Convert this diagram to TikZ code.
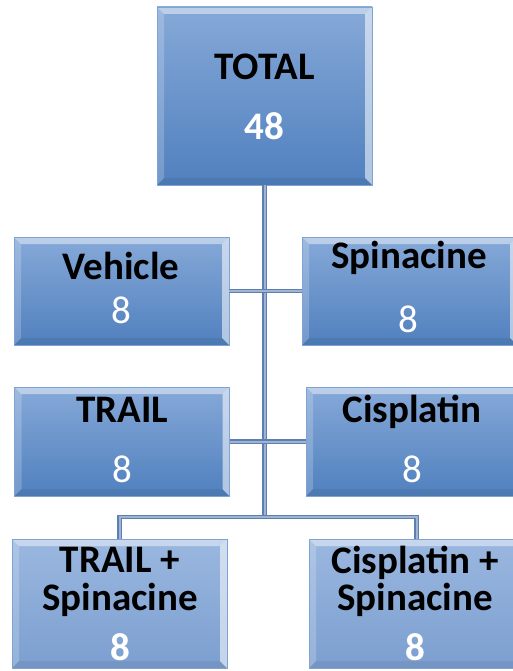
\documentclass[tikz,border=0pt]{standalone}
\usepackage{fontspec}
\setmainfont{Carlito}
\usepackage{tikz}
\usetikzlibrary{calc}
\definecolor{cTop}{HTML}{86A9D8}
\definecolor{cBot}{HTML}{5080BE}
\definecolor{cPaleTop}{HTML}{9AB7DF}
\definecolor{cPaleBot}{HTML}{7C9FD0}
\definecolor{cEdge}{HTML}{7FA3D3}
\definecolor{cLink}{HTML}{5D7FB2}
\definecolor{cLinkIn}{HTML}{9FB4D3}
\tikzset{
  grp/.style={minimum width=215pt,minimum height=108pt,inner sep=0pt,draw=cEdge,line width=0.5pt,
    top color=cTop,bottom color=cBot,bevel},
  grp pale/.style={grp,top color=cPaleTop,bottom color=cPaleBot},
  bevel/.style={path picture={
    \coordinate (bnw) at (path picture bounding box.north west);
    \coordinate (bne) at (path picture bounding box.north east);
    \coordinate (bsw) at (path picture bounding box.south west);
    \coordinate (bse) at (path picture bounding box.south east);
    \fill[white,opacity=.45] (bnw) -- (bne) -- ($(bne)+(-7pt,-7pt)$) -- ($(bnw)+(7pt,-7pt)$) -- cycle;
    \fill[white,opacity=.2] (bnw) -- ($(bnw)+(7pt,-7pt)$) -- ($(bsw)+(7pt,7pt)$) -- (bsw) -- cycle;
    \fill[white,opacity=.55] (bne) -- ($(bne)+(-7pt,-7pt)$) -- ($(bse)+(-7pt,7pt)$) -- (bse) -- cycle;
    \fill[black,opacity=.06] (bsw) -- ($(bsw)+(7pt,7pt)$) -- ($(bse)+(-7pt,7pt)$) -- (bse) -- cycle;
  }},
  head/.style={font=\fontsize{39}{39}\selectfont\bfseries,text=black,inner sep=0pt},
  num/.style={font=\fontsize{39}{39}\selectfont,text=white,inner sep=0pt},
  numb/.style={font=\fontsize{39}{39}\selectfont\bfseries,text=white,inner sep=0pt},
  link/.style={draw=cLink,line width=1.1pt,double=cLinkIn,double distance=2pt},
}

\begin{document}
\begin{tikzpicture}[x=1pt,y=1pt]
  \useasboundingbox (0,0) rectangle (512,-671);
  % group boxes
  \node[grp,minimum height=178pt] (total) at (264.5,-96) {};
  \node[grp] (veh) at (121.5,-291) {};
  \node[grp] (spi) at (409.5,-291) {};
  \node[grp,minimum height=109pt] (trail) at (122,-441.5) {};
  \node[grp,minimum height=109pt] (cis) at (413.5,-441.5) {};
  \node[grp pale,minimum height=129pt] (ts) at (119.5,-603.5) {};
  \node[grp pale,minimum height=129pt] (cs) at (416.5,-603.5) {};
  % labels
  \foreach \n/\x/\y/\t/\s in {a/264.5/80/TOTAL/head, b/264.5/140/48/numb,
      c/121/279/Vehicle/head, d/121/323/8/num, e/409/268/Spinacine/head, f/408/332/8/num,
      g/122/422/TRAIL/head, h/122/482/8/num, i/412/422/Cisplatin/head, j/412/482/8/num,
      k/120/572/{TRAIL +}/head, l/120/610/Spinacine/head, m/120/660/8/numb,
      n/415/573/{Cisplatin +}/head, o/415/610/Spinacine/head, p/415/660/8/numb}{
    \node[\s,anchor=base] (lab\n) at (\x,-\y) {\t};}
  % connectors
  \path (total.south) ++(0,-332) coordinate (hub);
  \draw[link] (total.south) -- (hub);
  \draw[link] (veh.east) -- (spi.west);
  \draw[link] (trail.east) -- (cis.west);
  \draw[link] (ts.north) |- (hub) -| (cs.north);
\end{tikzpicture}
\end{document}
